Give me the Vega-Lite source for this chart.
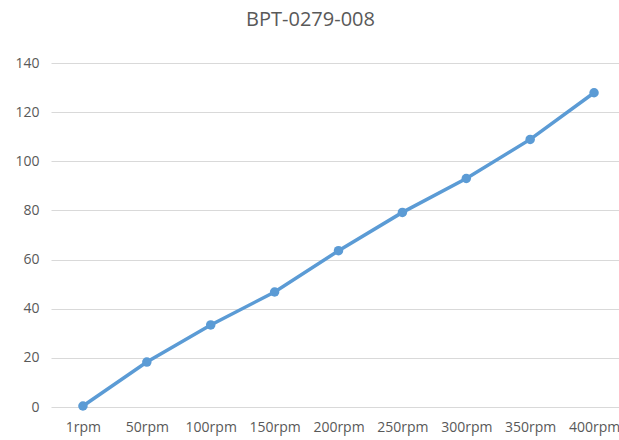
{
  "$schema": "https://vega.github.io/schema/vega-lite/v6.json",
  "width": 575,
  "height": 344,
  "autosize": {"type": "none"},
  "padding": {"left": 51, "top": 63, "right": 0, "bottom": 33},
  "background": "white",
  "title": {"text": "BPT-0279-008", "fontSize": 20, "font": "Open Sans", "fontWeight": "normal", "color": "#595959", "offset": 26, "anchor": "middle", "dx": -28},
  "data": {"values": [
    {"speed": "1rpm", "value": 0.4},
    {"speed": "50rpm", "value": 18.3},
    {"speed": "100rpm", "value": 33.4},
    {"speed": "150rpm", "value": 46.8},
    {"speed": "200rpm", "value": 63.6},
    {"speed": "250rpm", "value": 79.2},
    {"speed": "300rpm", "value": 93.0},
    {"speed": "350rpm", "value": 108.9},
    {"speed": "400rpm", "value": 127.9}
  ]},
  "config": {
    "view": {"stroke": null},
    "axis": {"labelFont": "Open Sans", "labelFontSize": 14, "labelColor": "#595959", "domain": false, "ticks": false, "title": null}
  },
  "encoding": {
    "x": {"field": "speed", "type": "ordinal", "sort": null, "scale": {"type": "point", "padding": 0.5},
          "axis": {"labelAngle": 0, "labelPadding": 13, "grid": false}},
    "y": {"field": "value", "type": "quantitative", "scale": {"domain": [0, 140]},
          "axis": {"values": [0, 20, 40, 60, 80, 100, 120, 140], "gridColor": "#d9d9d9", "gridWidth": 1, "labelPadding": 12}}
  },
  "layer": [
    {"mark": {"type": "line", "color": "#5b9bd5", "strokeWidth": 3.5}},
    {"mark": {"type": "point", "filled": true, "color": "#5b9bd5", "size": 90, "opacity": 1}}
  ]
}
